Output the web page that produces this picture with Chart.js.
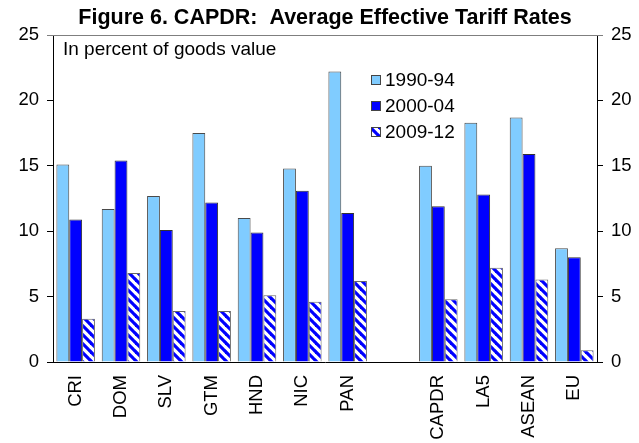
<!DOCTYPE html>
<html>
<head>
<meta charset="utf-8">
<script src="https://cdn.jsdelivr.net/npm/chart.js@4"></script>
<style>
  body { margin: 0; background: #fff; }
  canvas { display: block; }
</style>
</head>
<body>
<canvas id="chart" width="639" height="443"></canvas>
<script>
// Chart data
const categories = ['CRI', 'DOM', 'SLV', 'GTM', 'HND', 'NIC', 'PAN', '', 'CAPDR', 'LA5', 'ASEAN', 'EU'];
const rates1990 = [15.1, 11.7, 12.7, 17.5, 11.0, 14.8, 22.2, null, 15.0, 18.3, 18.7, 8.7];
const rates2000 = [10.9, 15.4, 10.1, 12.2, 9.9, 13.1, 11.4, null, 11.9, 12.8, 15.9, 8.0];
const rates2009 = [3.3, 6.8, 3.9, 3.9, 5.1, 4.6, 6.2, null, 4.8, 7.2, 6.3, 0.9];
const seriesNames = ['1990-94', '2000-04', '2009-12'];
const yTicks = [0, 5, 10, 15, 20, 25];

const title = 'Figure 6. CAPDR:  Average Effective Tariff Rates';
const subtitle = 'In percent of goods value';

const LIGHT = '#80ccff';
const BLUE = '#0000ff';
const FONT = '"Liberation Sans", Arial, sans-serif';

// Diagonal stripe pattern for the last period
function makeHatch(ctx) {
    const tile = document.createElement('canvas');
    tile.width = 9;
    tile.height = 9;
    const t = tile.getContext('2d');
    t.fillStyle = '#fff';
    t.fillRect(0, 0, 9, 9);
    t.strokeStyle = BLUE;
    t.lineWidth = 3.2;
    for (let k = -9; k <= 9; k += 9) {
        t.beginPath();
        t.moveTo(k - 1, -1);
        t.lineTo(k + 10, 10);
        t.stroke();
    }
    return ctx.createPattern(tile, 'repeat');
}

const canvas = document.getElementById('chart');
const hatch = makeHatch(canvas.getContext('2d'));

// Title, note, legend and top frame line
const decorPlugin = {
    id: 'decor',
    afterDraw(chart) {
        const ctx = chart.ctx;
        const area = chart.chartArea;
        ctx.save();

        ctx.strokeStyle = '#7f7f7f';
        ctx.lineWidth = 1;
        ctx.beginPath();
        ctx.moveTo(area.left - 6, area.top + 0.5);
        ctx.lineTo(area.right + 6, area.top + 0.5);
        ctx.stroke();

        ctx.fillStyle = '#000';
        ctx.textBaseline = 'middle';
        ctx.textAlign = 'center';
        ctx.font = 'bold 21.5px ' + FONT;
        ctx.fillText(title, (area.left + area.right) / 2, 18);

        ctx.textAlign = 'left';
        ctx.font = '19px ' + FONT;
        ctx.fillText(subtitle, 63, 50);

        const fills = [LIGHT, BLUE, hatch];
        seriesNames.forEach((name, i) => {
            const y = 80 + i * 26;
            ctx.fillStyle = fills[i];
            ctx.fillRect(371, y - 5, 10, 10);
            ctx.strokeStyle = '#444';
            ctx.strokeRect(371.5, y - 4.5, 9, 9);
            ctx.fillStyle = '#000';
            ctx.fillText(name, 385, y + 1);
        });
        ctx.restore();
    }
};

const yAxis = (position, width) => ({
    position: position,
    min: 0,
    max: 25,
    afterBuildTicks: axis => { axis.ticks = yTicks.map(v => ({ value: v })); },
    afterFit: axis => { axis.width = width; },
    border: { display: true, color: '#000', width: 1 },
    grid: { drawOnChartArea: false, drawTicks: true, tickLength: 6, color: '#000' },
    ticks: { color: '#000', padding: 8, font: { size: 18.5, family: FONT } }
});

new Chart(canvas, {
    type: 'bar',
    data: {
        labels: categories,
        datasets: [
            { label: seriesNames[0], data: rates1990, backgroundColor: LIGHT, borderColor: '#4a4a4a', borderWidth: 1 },
            { label: seriesNames[1], data: rates2000, backgroundColor: BLUE, borderColor: '#333', borderWidth: 1 },
            { label: seriesNames[2], data: rates2009, backgroundColor: hatch, borderColor: '#666', borderWidth: 1 }
        ]
    },
    options: {
        responsive: false,
        animation: false,
        layout: { padding: { top: 35, left: 0, right: 0, bottom: 0 } },
        datasets: { bar: { categoryPercentage: 0.85, barPercentage: 1.0 } },
        plugins: {
            legend: { display: false },
            title: { display: false },
            tooltip: { enabled: false }
        },
        scales: {
            x: {
                afterFit: axis => { axis.height = 81; },
                border: { display: true, color: '#000', width: 1 },
                grid: { display: false, drawTicks: false },
                ticks: {
                    color: '#000',
                    minRotation: 90,
                    maxRotation: 90,
                    padding: 13,
                    autoSkip: false,
                    font: { size: 18.5, family: FONT }
                }
            },
            y: yAxis('left', 53),
            y2: yAxis('right', 42)
        }
    },
    plugins: [decorPlugin]
});
</script>
</body>
</html>
